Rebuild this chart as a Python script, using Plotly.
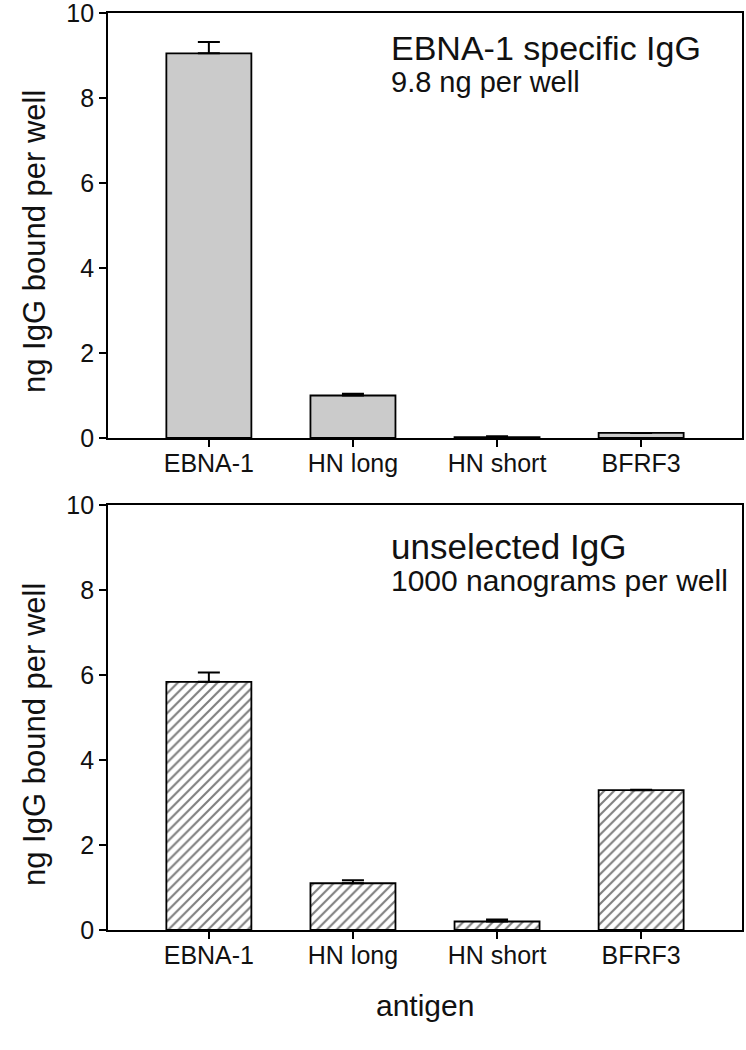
import plotly.graph_objects as go

categories = ["EBNA-1", "HN long", "HN short", "BFRF3"]
specific_vals = [9.05, 1.0, 0.02, 0.12]
specific_err = [0.27, 0.04, 0.02, 0.0]
unselected_vals = [5.84, 1.10, 0.20, 3.29]
unselected_err = [0.22, 0.07, 0.05, 0.01]
y_ticks = [0, 2, 4, 6, 8, 10]

W, H = 746, 1050
FONT = "Liberation Sans, Arial, sans-serif"
TXT = "#111111"

fig = go.Figure()

fig.add_trace(go.Bar(
    x=categories, y=specific_vals, xaxis="x", yaxis="y",
    width=0.59,
    marker=dict(color="#cbcbcb", line=dict(color="black", width=1.8)),
    error_y=dict(type="data", symmetric=False, array=specific_err,
                 arrayminus=[0] * 4, color="black", thickness=2, width=11),
    showlegend=False,
))
fig.add_trace(go.Bar(
    x=categories, y=unselected_vals, xaxis="x2", yaxis="y2",
    width=0.59,
    marker=dict(color="white", line=dict(color="black", width=1.8),
                pattern=dict(shape="/", fgcolor="black", bgcolor="white",
                             size=7, solidity=0.3)),
    error_y=dict(type="data", symmetric=False, array=unselected_err,
                 arrayminus=[0] * 4, color="black", thickness=2, width=11),
    showlegend=False,
))

xd = [108 / W, 742 / W]
top_dom = [(H - 438) / H, (H - 13) / H]
bot_dom = [(H - 930) / H, (H - 505) / H]

axis_common = dict(showline=True, linecolor="black", linewidth=1.8, mirror=True,
                   ticks="outside", ticklen=7, tickwidth=1.8, tickcolor="black",
                   showgrid=False, zeroline=False, automargin=False,
                   ticklabeloverflow="allow")
xfont = dict(family=FONT, size=25, color=TXT)
yfont = dict(family=FONT, size=25, color=TXT)

fig.update_layout(
    width=W, height=H, autosize=False,
    margin=dict(l=0, r=0, t=0, b=0, pad=0),
    paper_bgcolor="white", plot_bgcolor="white",
    xaxis=dict(domain=xd, anchor="y", range=[-0.7, 3.7], tickfont=xfont,
               ticklabelstandoff=-5, **axis_common),
    yaxis=dict(domain=top_dom, anchor="x", range=[0, 10], tickvals=y_ticks,
               tickfont=yfont, **axis_common),
    xaxis2=dict(domain=xd, anchor="y2", range=[-0.7, 3.7], tickfont=xfont,
                ticklabelstandoff=-5, **axis_common),
    yaxis2=dict(domain=bot_dom, anchor="x2", range=[0, 10], tickvals=y_ticks,
                tickfont=yfont, **axis_common),
)

annots = [
    dict(text="EBNA-1 specific IgG", x=389, y=48, size=34),
    dict(text="9.8 ng per well", x=389, y=82, size=29),
    dict(text="unselected IgG", x=389, y=546, size=35),
    dict(text="1000 nanograms per well", x=389, y=580, size=30),
]
for a in annots:
    fig.add_annotation(text=a["text"], xref="paper", yref="paper",
                       x=a["x"] / W, y=1 - a["y"] / H, xanchor="left", yanchor="middle",
                       showarrow=False, font=dict(family=FONT, size=a["size"], color=TXT))

for yc in [242, 735]:
    fig.add_annotation(text="ng IgG bound per well", xref="paper", yref="paper",
                       x=34 / W, y=1 - yc / H, textangle=-90, showarrow=False,
                       xanchor="center", yanchor="middle",
                       font=dict(family=FONT, size=31, color=TXT))
fig.add_annotation(text="antigen", xref="paper", yref="paper",
                   x=425 / W, y=1 - 1005 / H, showarrow=False,
                   xanchor="center", yanchor="middle",
                   font=dict(family=FONT, size=30, color=TXT))

fig.write_html("out.html", config={"displayModeBar": False},
               post_script="document.body.style.margin='0';")
